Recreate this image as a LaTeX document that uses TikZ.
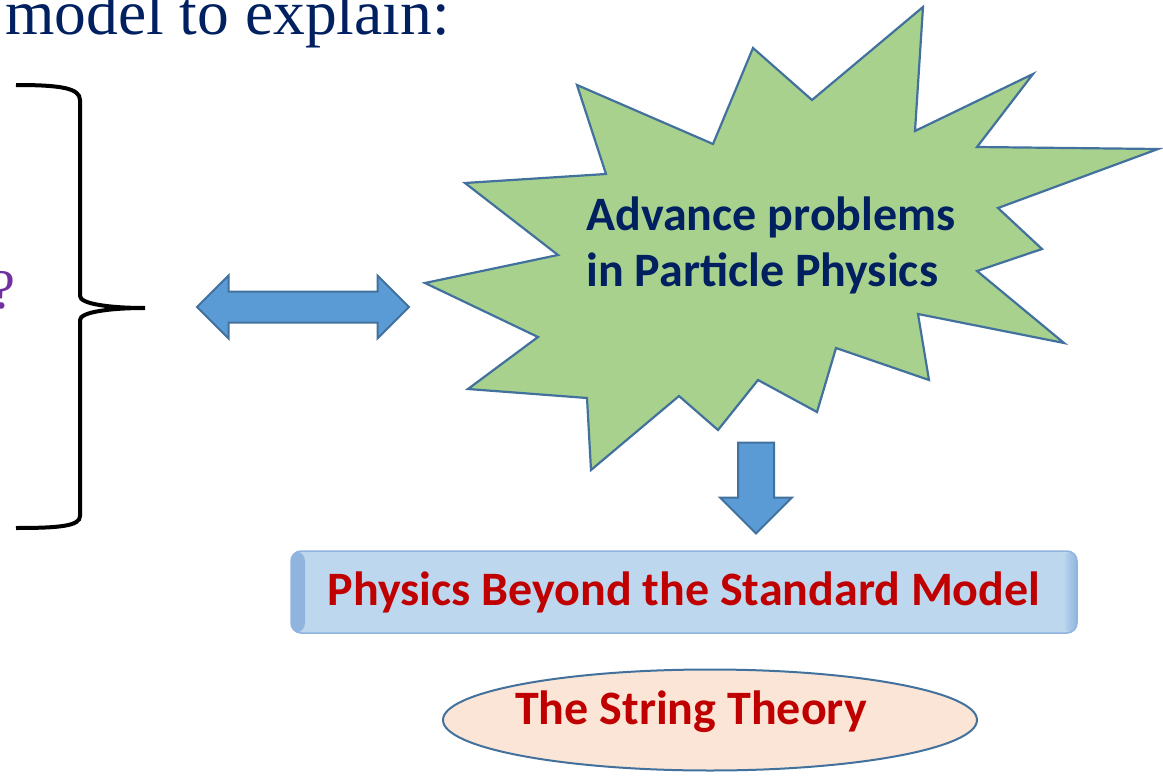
\documentclass[tikz,border=0pt]{standalone}
\usepackage{fontspec}
\setmainfont{Liberation Serif}
\newfontfamily\calibri{Carlito}
\usetikzlibrary{shapes.arrows,shapes.geometric}
\definecolor{navy}{RGB}{0,32,96}
\definecolor{qpurple}{RGB}{112,48,160}
\definecolor{bsmred}{RGB}{192,0,0}
\definecolor{leafgreen}{RGB}{169,209,142}
\definecolor{steel}{RGB}{65,113,156}
\definecolor{arrowblue}{RGB}{91,155,213}
\definecolor{boxblue}{RGB}{189,215,238}
\definecolor{boxedge}{RGB}{143,180,222}
\definecolor{peach}{RGB}{251,229,214}
\tikzset{
  calbold/.style={font=\calibri\bfseries\fontsize{48}{56}\selectfont},
  bigarrow/.style={fill=arrowblue,draw=steel,line width=2pt},
  starline/.style={fill=leafgreen,draw=steel,line width=2.2pt,line join=miter},
  banner/.style={rectangle,rounded corners=10pt,draw=boxedge,line width=1.5pt,fill=boxblue,
                 minimum width=786pt,minimum height=82pt,inner sep=0pt,
                 path picture={
                   \fill[left color=boxedge,right color=boxblue]
                     (path picture bounding box.south west) rectangle ([xshift=14pt]path picture bounding box.north west);
                   \fill[left color=boxblue,right color=boxedge]
                     ([xshift=-14pt]path picture bounding box.south east) rectangle (path picture bounding box.north east);}},
  oval/.style={ellipse,draw=steel,line width=2pt,fill=peach,minimum width=534pt,minimum height=101pt,inner sep=0pt},
  brace/.style={line width=4pt,black}
}
\begin{document}
\begin{tikzpicture}[x=1pt,y=-1pt]
  \useasboundingbox (0,0) rectangle (1163,776);
  \node[anchor=base west,text=navy,font=\fontsize{63.5}{70}\selectfont,inner sep=0pt] (title) at (5,35) {model to explain:};
  \node[anchor=base east,text=qpurple,font=\fontsize{56}{60}\selectfont,inner sep=0pt] (quest) at (16,308) {?};
  \draw[brace] (16,85) .. controls (60,85) and (80,88) .. (80,100) -- (80,296)
    .. controls (80,304) and (110,308) .. (145,308) .. controls (110,308) and (80,312) .. (80,320)
    -- (80,516) .. controls (80,526) and (60,528) .. (16,528);
  \node[bigarrow,double arrow,inner sep=14.5pt,double arrow head extend=16pt,minimum height=212pt] (link) at (303,307) {};
  % the burst
  \draw[starline] (425,283) -- (558,255) -- (465,183) -- (606,174) -- (577,85) -- (713,144)
    -- (753,48) -- (812,100) -- (923,7) -- (915,131) -- (1033,74) -- (977,147) -- (1158,149)
    -- (998,208) -- (1042,249) -- (977,271) -- (1064,343) -- (918,314) -- (929,380) -- (836,348)
    -- (817,412) -- (758,380) -- (718,430) -- (679,396) -- (591,470) -- (587,398) -- (468,389)
    -- (538,337) -- cycle;
  \node[calbold,text=navy,align=left,inner sep=0pt] (prob) at (771,245) {Advance problems\\in Particle Physics};
  \node[bigarrow,single arrow,shape border rotate=270,inner sep=17pt,single arrow head extend=18pt,minimum height=91pt] (down) at (756,479) {};
  \node[banner,calbold,text=bsmred] (bsm) at (684,592) {Physics Beyond the Standard Model};
  \node[oval] (string) at (710,720) {};
  \node[calbold,text=bsmred,inner sep=0pt] (stringtxt) at ([shift={(-19,-8)}]string.center) {The String Theory};
\end{tikzpicture}
\end{document}
